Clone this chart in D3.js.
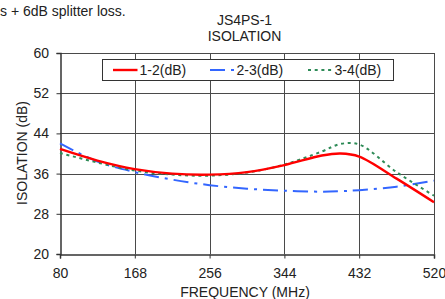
<!DOCTYPE html>
<html>
<head>
<meta charset="utf-8">
<script src="https://cdn.jsdelivr.net/npm/d3@7"></script>
<style>
  html, body { margin: 0; padding: 0; background: #fff; }
  svg { display: block; font-family: "Liberation Sans", Arial, sans-serif; }
</style>
</head>
<body>
<div id="chart"></div>
<script>
'use strict';

// ─── Data ──────────────────────────────────────────────────────────────────
const freqs   = [80, 124, 168, 212, 256, 300, 344, 388, 410, 432, 476, 520];
const iso12   = [40.9, 38.6, 36.9, 36.0, 35.8, 36.3, 37.7, 39.6, 40.0, 39.4, 35.0, 30.3];
const iso23   = [42.0, 38.4, 36.3, 34.8, 33.7, 33.0, 32.6, 32.4, 32.5, 32.7, 33.4, 34.6];
const iso34   = [40.1, 38.2, 36.6, 35.8, 35.6, 36.2, 37.8, 40.4, 41.9, 41.8, 36.3, 31.6];
const seriesNames = ['1-2(dB)', '2-3(dB)', '3-4(dB)'];
const xTicks  = [80, 168, 256, 344, 432, 520];
const yTicks  = [20, 28, 36, 44, 52, 60];

const W = 445, H = 299;
const M = { left: 60, right: 11, top: 53, bottom: 45 };
const FS = 14;

const svg = d3.select('#chart').append('svg')
    .attr('width', W).attr('height', H);

const x = d3.scaleLinear().domain([80, 520]).range([M.left, W - M.right]);
const y = d3.scaleLinear().domain([20, 60]).range([H - M.bottom, M.top]);

function label(px, py, txt, anchor) {
    return svg.append('text').attr('x', px).attr('y', py)
        .attr('text-anchor', anchor || 'start')
        .attr('font-size', FS).attr('fill', '#222')
        .text(txt);
}

// ─── Titles ────────────────────────────────────────────────────────────────
label(0, 16, 's + 6dB splitter loss.');
label(244.5, 24.5, 'JS4PS-1', 'middle');
label(244.5, 40.5, 'ISOLATION', 'middle');

// ─── Grid ──────────────────────────────────────────────────────────────────
const grid = svg.append('g').attr('stroke', '#4a4a4a').attr('stroke-width', 1);
grid.selectAll('.hg').data(yTicks.slice(1)).enter().append('line')
    .attr('x1', M.left).attr('x2', W - M.right)
    .attr('y1', function (d) { return Math.round(y(d)) + 0.5; })
    .attr('y2', function (d) { return Math.round(y(d)) + 0.5; });
grid.selectAll('.vg').data(xTicks.slice(1)).enter().append('line')
    .attr('y1', M.top).attr('y2', H - M.bottom)
    .attr('x1', function (d) { return Math.round(x(d)) + 0.5; })
    .attr('x2', function (d) { return Math.round(x(d)) + 0.5; });

// ─── Axes ──────────────────────────────────────────────────────────────────
const xAxis = svg.append('g')
    .attr('transform', 'translate(0,' + (Math.round(y(20)) + 0.5) + ')')
    .call(d3.axisBottom(x).tickValues(xTicks).tickSize(4).tickPadding(9.8));
const yAxis = svg.append('g')
    .attr('transform', 'translate(' + (Math.round(x(80)) + 0.5) + ',0)')
    .call(d3.axisLeft(y).tickValues(yTicks).tickSize(4).tickPadding(7.5));
[xAxis, yAxis].forEach(function (a) {
    a.select('.domain').attr('stroke', '#333').attr('stroke-width', 1.5);
    a.selectAll('.tick line').attr('stroke', '#333');
    a.selectAll('text').attr('font-size', FS).attr('fill', '#222')
        .attr('font-family', '"Liberation Sans", Arial, sans-serif');
});

svg.append('text')
    .attr('transform', 'translate(27,153) rotate(-90)')
    .attr('text-anchor', 'middle').attr('font-size', FS).attr('fill', '#222')
    .text('ISOLATION (dB)');
label(245, 296.5, 'FREQUENCY (MHz)', 'middle');

// ─── Lines ─────────────────────────────────────────────────────────────────
const styles = [
    { color: '#ff0000', width: 2.4, dash: null },
    { color: '#3366ff', width: 2,   dash: '15,6,3,6' },
    { color: '#2e8b57', width: 2,   dash: '3,3.7' }
];
const allSeries = [iso12, iso23, iso34];

const line = d3.line()
    .x(function (d, i) { return x(freqs[i]); })
    .y(function (d) { return y(d); })
    .curve(d3.curveCatmullRom.alpha(0.5));

const plot = svg.append('g');
[1, 2, 0].forEach(function (k) {
    plot.append('path')
        .datum(allSeries[k])
        .attr('d', line)
        .attr('fill', 'none')
        .attr('stroke', styles[k].color)
        .attr('stroke-width', styles[k].width)
        .attr('stroke-dasharray', styles[k].dash);
});

// ─── Legend ────────────────────────────────────────────────────────────────
const lg = svg.append('g');
lg.append('rect').attr('x', 102.5).attr('y', 59.5).attr('width', 291).attr('height', 21)
    .attr('fill', '#fff').attr('stroke', '#333').attr('stroke-width', 1);
const legendX = [113, 210, 308];
seriesNames.forEach(function (name, k) {
    lg.append('line')
        .attr('x1', legendX[k]).attr('x2', legendX[k] + 24.5)
        .attr('y1', 70).attr('y2', 70)
        .attr('stroke', styles[k].color)
        .attr('stroke-width', styles[k].width)
        .attr('stroke-dasharray', styles[k].dash);
    lg.append('text')
        .attr('x', legendX[k] + 26.5).attr('y', 75.3)
        .attr('font-size', FS).attr('fill', '#222')
        .text(name);
});
</script>
</body>
</html>
